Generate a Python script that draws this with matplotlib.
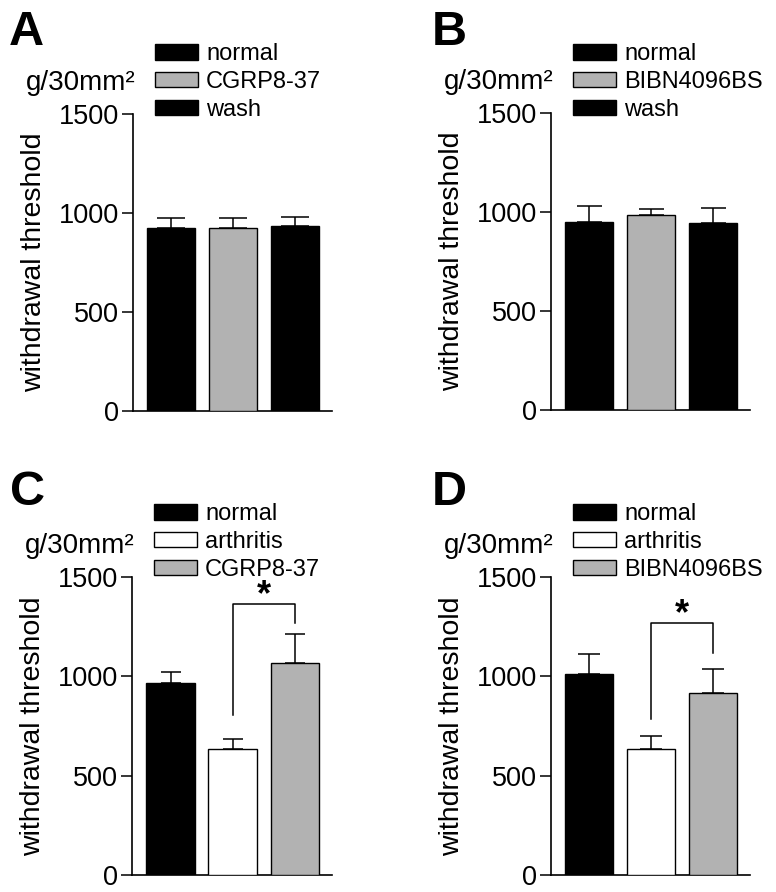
import numpy as np
import matplotlib
matplotlib.use("Agg")
import matplotlib.pyplot as plt
from matplotlib.patches import Patch

plt.rcParams['font.family'] = ['Liberation Sans', 'DejaVu Sans']

# ---- data ----
gray = '#b2b2b2'

labels_a = ['normal', 'CGRP8-37', 'wash']
means_a = [923, 926, 936]
sem_a = [52, 49, 44]
colors_a = ['black', gray, 'black']

labels_b = ['normal', 'BIBN4096BS', 'wash']
means_b = [947, 985, 944]
sem_b = [83, 32, 76]
colors_b = ['black', gray, 'black']

labels_c = ['normal', 'arthritis', 'CGRP8-37']
means_c = [966, 634, 1067]
sem_c = [56, 51, 146]
colors_c = ['black', 'white', gray]
bracket_c = [805, 1364, 1268]   # left leg end, top, right leg end

labels_d = ['normal', 'arthritis', 'BIBN4096BS']
means_d = [1012, 634, 916]
sem_d = [100, 66, 121]
colors_d = ['black', 'white', gray]
bracket_d = [785, 1268, 1117]

W, H = 776, 892
fig = plt.figure(figsize=(W / 100, H / 100), dpi=100)


def panel(rect, letter, letter_xy, legend_xy, labels, means, sems, colors, capsize, bracket=None):
    ax = fig.add_axes(rect)
    x = np.arange(len(means))
    ax.bar(x, means, width=0.78, color=colors, edgecolor='black', linewidth=1.0, zorder=3)
    ax.errorbar(x, means, yerr=[np.zeros(len(sems)), sems], fmt='none', ecolor='black',
                elinewidth=1.1, capsize=capsize, capthick=1.1, zorder=2)
    ax.set_xlim(-0.62, 2.6)
    ax.set_ylim(0, 1500)
    ax.set_yticks([0, 500, 1000, 1500])
    ax.set_xticks([])
    for s in ['top', 'right']:
        ax.spines[s].set_visible(False)
    for s in ['left', 'bottom']:
        ax.spines[s].set_linewidth(1.2)
    ax.tick_params(axis='y', length=8, width=1.1, pad=2, labelsize=19.5)
    ax.set_ylabel('withdrawal threshold', fontsize=20.5)
    ax.yaxis.set_label_coords(-0.43, 0.5)
    ax.annotate('g/30mm²', xy=(0, 1), xycoords='axes fraction', xytext=(1.5, 17),
                textcoords='offset points', ha='right', va='baseline', fontsize=20)
    if bracket is not None:
        ax.plot([1, 1, 2, 2], [bracket[0], bracket[1], bracket[1], bracket[2]],
                color='black', lw=1.1, clip_on=False)
        ax.annotate('*', xy=(1.5, bracket[1]), xytext=(0, -1), textcoords='offset points',
                    ha='center', va='baseline', fontsize=26, fontweight='bold')
    handles = [Patch(facecolor=c, edgecolor='black', linewidth=1.0) for c in colors]
    ax.legend(handles, labels, loc='upper left',
              bbox_to_anchor=(legend_xy[0] / W, 1 - legend_xy[1] / H),
              bbox_transform=fig.transFigure, frameon=False, fontsize=17,
              borderpad=0, borderaxespad=0, handlelength=1.82, handleheight=0.64,
              handletextpad=0.34, labelspacing=0.25)
    fig.text(letter_xy[0] / W, 1 - letter_xy[1] / H, letter, ha='left', va='baseline',
             fontsize=35, fontweight='bold')
    return ax


panel([133 / W, 1 - 411 / H, 199 / W, 297 / H], 'A', (9, 45), (155, 43),
      labels_a, means_a, sem_a, colors_a, capsize=10)
panel([551 / W, 1 - 410 / H, 199 / W, 297 / H], 'B', (432, 45), (573, 43),
      labels_b, means_b, sem_b, colors_b, capsize=9)
panel([132 / W, 1 - 875 / H, 200 / W, 298 / H], 'C', (10, 505), (154, 503),
      labels_c, means_c, sem_c, colors_c, capsize=7, bracket=bracket_c)
panel([551 / W, 1 - 875 / H, 199 / W, 298 / H], 'D', (432, 505), (573, 503),
      labels_d, means_d, sem_d, colors_d, capsize=8, bracket=bracket_d)

fig.savefig('out.png', dpi=100)
